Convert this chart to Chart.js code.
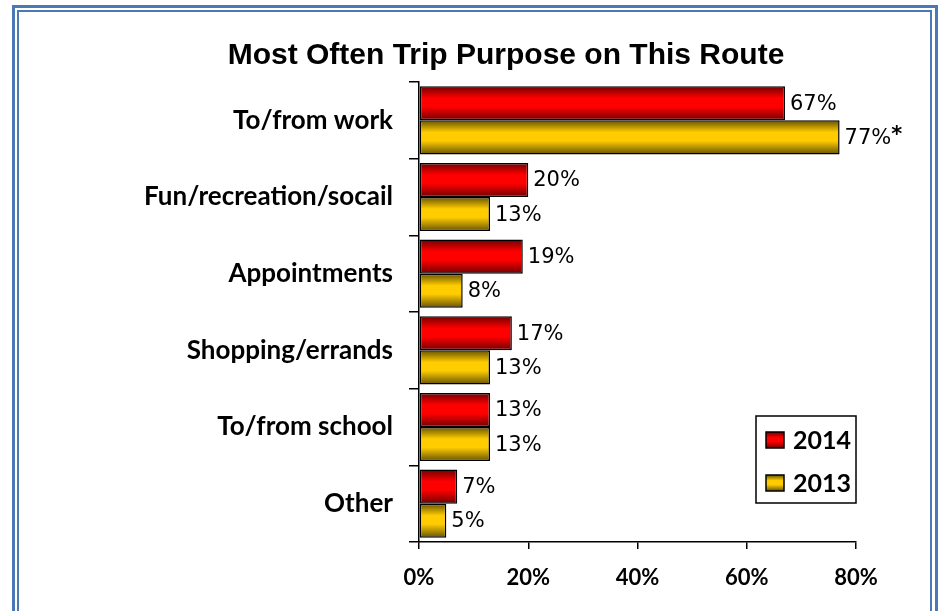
<!DOCTYPE html>
<html>
<head>
<meta charset="utf-8">
<script src="https://cdn.jsdelivr.net/npm/chart.js@4.4.1/dist/chart.umd.min.js"></script>
<style>
    html, body { margin: 0; padding: 0; background: #fff; }
    #wrap { position: relative; width: 940px; height: 611px; overflow: hidden; }
    .frame_outer { position: absolute; left: 12px; top: 5px; width: 920px; height: 640px; border: 3px solid #4a79b5; }
    .frame_inner { position: absolute; left: 17px; top: 10px; width: 911px; height: 630px; border: 2px solid #4a79b5; }
    canvas { position: absolute; left: 0; top: 0; }
</style>
</head>
<body>
<div id="wrap">
    <div class="frame_outer"></div>
    <div class="frame_inner"></div>
    <canvas id="trips" width="940" height="611"></canvas>
</div>
<script>
const chartTitle = 'Most Often Trip Purpose on This Route';
const categories = ['To/from work', 'Fun/recreation/socail', 'Appointments', 'Shopping/errands', 'To/from school', 'Other'];
const seriesNames = ['2014', '2013'];
const values2014 = [67, 20, 19, 17, 13, 7];
const values2013 = [77, 13, 8, 13, 13, 5];
const notes2014 = ['', '', '', '', '', ''];
const notes2013 = ['*', '', '', '', '', ''];
const xTickValues = [0, 20, 40, 60, 80];

const catPct = 0.89;

// dark edge -> bright middle -> dark edge
const shades = [
    ['#700000', '#ff0000', '#ff0000', '#700000'],
    ['#665200', '#ffcc00', '#ffcc00', '#665200']
];

function barGradient(ctx, top, bottom, set) {
    const g = ctx.createLinearGradient(0, top, 0, bottom);
    g.addColorStop(0, shades[set][0]);
    g.addColorStop(0.35, shades[set][1]);
    g.addColorStop(0.6, shades[set][2]);
    g.addColorStop(1, shades[set][3]);
    return g;
}

function fillFor(set) {
    return (c) => {
        const chart = c.chart;
        const y = chart.scales.y;
        if (!y || c.dataIndex === undefined) return shades[set][1];
        const catH = y.height / categories.length;
        const barW = catH * catPct / 2;
        const top = y.getPixelForValue(c.dataIndex) - catH * catPct / 2 + set * barW;
        if (!isFinite(top) || !isFinite(barW) || barW <= 0) return shades[set][1];
        return barGradient(chart.ctx, top, top + barW, set);
    };
}

const titlePlugin = {
    id: 'titleText',
    afterDraw(chart) {
        const ctx = chart.ctx;
        ctx.save();
        ctx.font = 'bold 30px "Liberation Sans", Arial, sans-serif';
        ctx.fillStyle = '#000';
        ctx.textAlign = 'center';
        ctx.textBaseline = 'middle';
        ctx.fillText(chartTitle, 506, 56);
        ctx.restore();
    }
};

const valueLabels = {
    id: 'valueLabels',
    afterDatasetsDraw(chart) {
        const ctx = chart.ctx;
        const notes = [notes2014, notes2013];
        ctx.save();
        ctx.fillStyle = '#000';
        ctx.textBaseline = 'middle';
        ctx.textAlign = 'left';
        chart.data.datasets.forEach((ds, di) => {
            chart.getDatasetMeta(di).data.forEach((bar, i) => {
                const txt = ds.data[i] + '%';
                ctx.font = '21px "DejaVu Sans", sans-serif';
                ctx.fillText(txt, bar.x + 5, bar.y + 1);
                if (notes[di][i]) {
                    const w = ctx.measureText(txt).width;
                    ctx.font = 'bold 21px "DejaVu Sans", sans-serif';
                    ctx.fillText(notes[di][i], bar.x + 5 + w, bar.y - 2);
                }
            });
        });
        ctx.restore();
    }
};

const boxLegend = {
    id: 'boxLegend',
    afterDraw(chart) {
        const ctx = chart.ctx;
        ctx.save();
        ctx.strokeStyle = '#000';
        ctx.lineWidth = 1.5;
        ctx.strokeRect(756, 416, 100, 87);
        chart.data.datasets.forEach((ds, di) => {
            const cy = 440 + di * 43;
            ctx.fillStyle = barGradient(ctx, cy - 8, cy + 8, di);
            ctx.fillRect(766, cy - 8, 18, 16);
            ctx.lineWidth = 1.5;
            ctx.strokeRect(766, cy - 8, 18, 16);
            ctx.fillStyle = '#000';
            ctx.font = 'bold 25px Lato, sans-serif';
            ctx.textBaseline = 'middle';
            ctx.fillText(ds.label, 793, cy + 1);
        });
        ctx.restore();
    }
};

new Chart(document.getElementById('trips').getContext('2d'), {
    type: 'bar',
    data: {
        labels: categories,
        datasets: [
            {
                label: seriesNames[0],
                data: values2014,
                backgroundColor: fillFor(0),
                borderColor: '#000',
                borderWidth: 1.5,
                borderSkipped: false
            },
            {
                label: seriesNames[1],
                data: values2013,
                backgroundColor: fillFor(1),
                borderColor: '#000',
                borderWidth: 1.5,
                borderSkipped: false
            }
        ]
    },
    options: {
        indexAxis: 'y',
        responsive: false,
        animation: false,
        datasets: {
            bar: { categoryPercentage: catPct, barPercentage: 1 }
        },
        layout: { padding: { top: 82, right: 84, bottom: 0, left: 0 } },
        plugins: {
            legend: { display: false },
            title: { display: false },
            tooltip: { enabled: false }
        },
        scales: {
            x: {
                min: 0,
                max: 80,
                afterFit(scale) { scale.height = 69; },
                afterBuildTicks(scale) { scale.ticks = xTickValues.map(v => ({ value: v })); },
                ticks: {
                    callback: v => v + '%',
                    color: '#000',
                    font: { family: 'Lato', size: 22, weight: 'bold' },
                    padding: 16,
                    maxRotation: 0
                },
                grid: { drawOnChartArea: false, drawTicks: true, tickLength: 7, color: '#000', lineWidth: 1.5 },
                border: { display: true, color: '#000', width: 1.5 }
            },
            y: {
                afterFit(scale) { scale.width = 419; },
                ticks: {
                    color: '#000',
                    font: { family: 'Lato', size: 26, weight: 'bold' },
                    padding: 16
                },
                grid: { offset: true, drawOnChartArea: false, drawTicks: true, tickLength: 10, color: '#000', lineWidth: 1.5 },
                border: { display: true, color: '#000', width: 1.5 }
            }
        }
    },
    plugins: [titlePlugin, valueLabels, boxLegend]
});
</script>
</body>
</html>
